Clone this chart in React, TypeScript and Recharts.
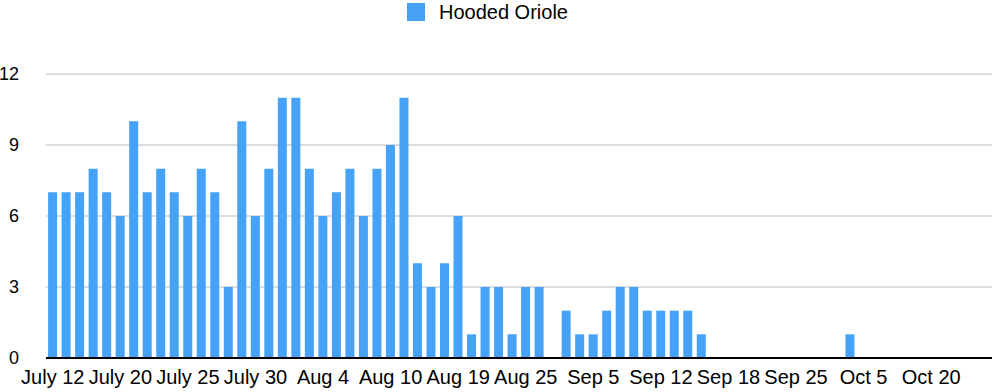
import { Bar, BarChart, CartesianGrid, Legend, XAxis, YAxis } from "recharts";

const dates = [
  "July 12", "July 13", "July 15", "July 17", "July 18", "July 20", "July 21", "July 22", "July 23", "July 24",
  "July 25", "July 26", "July 27", "July 28", "July 29", "July 30", "July 31", "Aug 1", "Aug 2", "Aug 3",
  "Aug 4", "Aug 5", "Aug 6", "Aug 7", "Aug 8", "Aug 10", "Aug 11", "Aug 13", "Aug 15", "Aug 17",
  "Aug 19", "Aug 20", "Aug 21", "Aug 22", "Aug 24", "Aug 25", "Aug 27", "Aug 29", "Aug 31", "Sep 2",
  "Sep 5", "Sep 6", "Sep 8", "Sep 9", "Sep 11", "Sep 12", "Sep 13", "Sep 15", "Sep 16", "Sep 17",
  "Sep 18", "Sep 19", "Sep 21", "Sep 22", "Sep 24", "Sep 25", "Sep 27", "Sep 29", "Oct 1", "Oct 3",
  "Oct 5", "Oct 8", "Oct 11", "Oct 14", "Oct 17", "Oct 20", "Oct 23", "Oct 26", "Oct 28", "Oct 31",
];

const orioles = [
  7, 7, 7, 8, 7, 6, 10, 7, 8, 7,
  6, 8, 7, 3, 10, 6, 8, 11, 11, 8,
  6, 7, 8, 6, 8, 9, 11, 4, 3, 4,
  6, 1, 3, 3, 1, 3, 3, 0, 2, 1,
  1, 2, 3, 3, 2, 2, 2, 2, 1, 0,
  0, 0, 0, 0, 0, 0, 0, 0, 0, 1,
  0, 0, 0, 0, 0, 0, 0, 0, 0, 0,
];

const yTicks = [0, 3, 6, 9, 12];

const data = dates.map((date, i) => ({ date, orioles: orioles[i] }));

const font = "'Liberation Sans', Arial, Helvetica, sans-serif";
const blue = "#45a2f7";

function LegendBox() {
  return (
    <div style={{ display: "flex", alignItems: "center", height: 18, fontFamily: font, fontSize: 20, color: "#000" }}>
      <span style={{ width: 18, height: 18, background: blue, marginRight: 14 }} />
      <span>Hooded Oriole</span>
    </div>
  );
}

export default function App() {
  return (
    <div style={{ position: "absolute", left: 0, top: 0 }}>
      <BarChart
        width={992}
        height={392}
        data={data}
        margin={{ top: 56, right: 0, left: 0, bottom: 4 }}
        barCategoryGap="15.5%"
      >
        <CartesianGrid vertical={false} stroke="#bbbbbb" />
        <Legend
          verticalAlign="top"
          align="left"
          content={() => <LegendBox />}
          wrapperStyle={{ left: 407, top: 3, width: "auto" }}
        />
        <XAxis
          dataKey="date"
          interval={4}
          tickLine={false}
          tickMargin={6}
          axisLine={{ stroke: "#000", strokeWidth: 2 }}
          tick={{ fill: "#000", fontSize: 20, fontFamily: font }}
          height={30}
        />
        <YAxis
          width={46}
          domain={[0, 12]}
          ticks={yTicks}
          axisLine={false}
          tickLine={false}
          tickMargin={21}
          tick={{ fill: "#000", fontSize: 18, fontFamily: font }}
        />
        <Bar dataKey="orioles" fill={blue} isAnimationActive={false} />
      </BarChart>
    </div>
  );
}
